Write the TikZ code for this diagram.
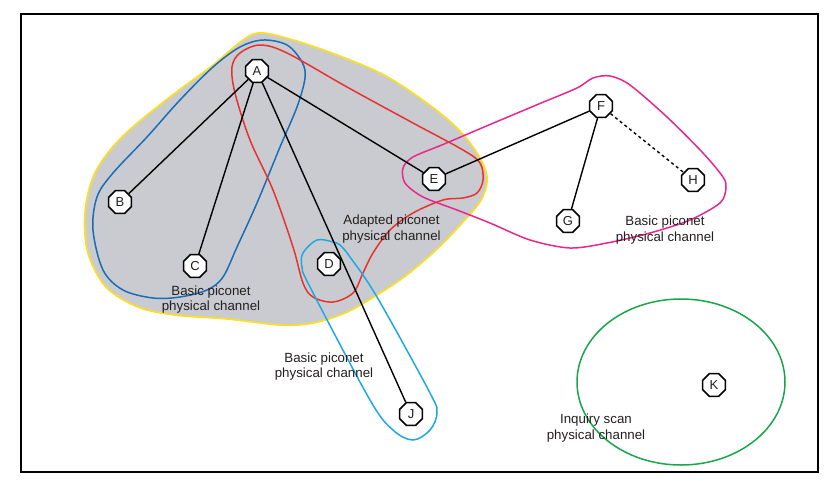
\documentclass[tikz,border=0pt]{standalone}
\usepackage{fontspec}
\setmainfont{Liberation Sans}
\usetikzlibrary{shapes.geometric}
\definecolor{regionfill}{RGB}{201,203,209}
\definecolor{regionborder}{RGB}{250,222,45}
\definecolor{darkblue}{RGB}{27,109,181}
\definecolor{chred}{RGB}{232,50,45}
\definecolor{chmagenta}{RGB}{230,40,140}
\definecolor{lightblue}{RGB}{31,169,225}
\definecolor{chgreen}{RGB}{24,166,74}
\definecolor{txt}{RGB}{35,31,32}
\begin{document}
\begin{tikzpicture}[x=1pt,y=-1pt,
  dev/.style={regular polygon, regular polygon sides=8, minimum size=24.5pt, inner sep=0pt,
    draw=black, line width=1.6pt, fill=white, text=txt, font=\fontsize{13}{14}\selectfont},
  edge/.style={draw=black, line width=1.4pt},
  lbl/.style={align=center, text=txt, inner sep=0pt, font=\fontsize{13.3}{15.5}\selectfont}]
\useasboundingbox (0,0) rectangle (828,483);
\draw[line width=2pt] (21,14) rectangle (818,472);
% gray region
\draw[fill=regionfill, draw=regionborder, line width=1.8pt] plot[smooth cycle, tension=0.55] coordinates {
 (258,33) (286,38) (329,52) (382,74) (424,101) (456,127) (477,153) (487,177) (481,200)
 (462,223) (436,250) (404,277) (372,298) (345,313) (313,323) (281,325) (228,319) (175,315)
 (138,307) (106,287) (88,253) (85,213) (95,173) (122,137) (170,97) (212,66) (239,43)};
% dark blue
\draw[darkblue, line width=1.5pt] plot[smooth cycle, tension=0.55] coordinates {
 (263,40) (287,45) (302,62) (305,78) (297,107) (280,147) (257,203) (237,247) (223,277)
 (207,290) (180,297) (153,298) (123,290) (103,270) (93,230) (97,197) (113,173) (147,137)
 (180,100) (213,67) (240,47)};
% red
\draw[chred, line width=1.5pt] plot[smooth cycle, tension=0.55] coordinates {
 (260,45) (287,53) (347,87) (413,123) (463,150) (480,163) (483,180) (477,193) (463,198)
 (443,200) (413,213) (390,230) (373,253) (363,273) (353,293) (333,302) (313,297) (303,283)
 (293,247) (273,190) (250,140) (235,93) (232,67) (240,53)};
% magenta
\draw[chmagenta, line width=1.5pt] plot[smooth cycle, tension=0.5] coordinates {
 (593,78) (610,76) (630,85) (667,117) (703,153) (723,177) (726,188) (720,203) (690,220)
 (650,233) (607,243) (570,248) (530,240) (490,223) (457,210) (423,197) (405,183) (403,168)
 (413,157) (443,144.5) (490,124.5) (540,103.5) (577,88)};
% light blue
\draw[lightblue, line width=1.5pt] plot[smooth cycle, tension=0.55] coordinates {
 (333,242) (317,240) (303,253) (302,267) (310,287) (370,400) (393,430) (413,440) (430,430)
 (437,413) (430,393) (377,297) (350,257) (340,245)};
% green
\draw[chgreen, line width=1.5pt] (681,382) ellipse [x radius=104, y radius=83];
% nodes
\node[dev] (A) at (257,71) {A};
\node[dev] (B) at (120,202) {B};
\node[dev] (C) at (195,266) {C};
\node[dev] (D) at (329,264) {D};
\node[dev] (E) at (434,179) {E};
\node[dev] (F) at (601,106) {F};
\node[dev] (G) at (568,221) {G};
\node[dev] (H) at (693,180) {H};
\node[dev] (J) at (411,414) {J};
\node[dev] (K) at (714,385) {K};
% edges
\draw[edge] (A) -- (B);
\draw[edge] (A) -- (C);
\draw[edge] (A) -- (J);
\draw[edge] (A) -- (E);
\draw[edge] (E) -- (F);
\draw[edge] (F) -- (G);
\draw[edge, dashed] (F) -- (H);
% labels
\node[lbl] (l1) at (211,299.5) {Basic piconet\\physical channel};
\node[lbl] (l2) at (391.5,229) {Adapted piconet\\physical channel};
\node[lbl] (l3) at (665,230) {Basic piconet\\physical channel};
\node[lbl] (l4) at (324,366.5) {Basic piconet\\physical channel};
\node[lbl] (l5) at (596,428) {Inquiry scan\\physical channel};
\end{tikzpicture}
\end{document}
